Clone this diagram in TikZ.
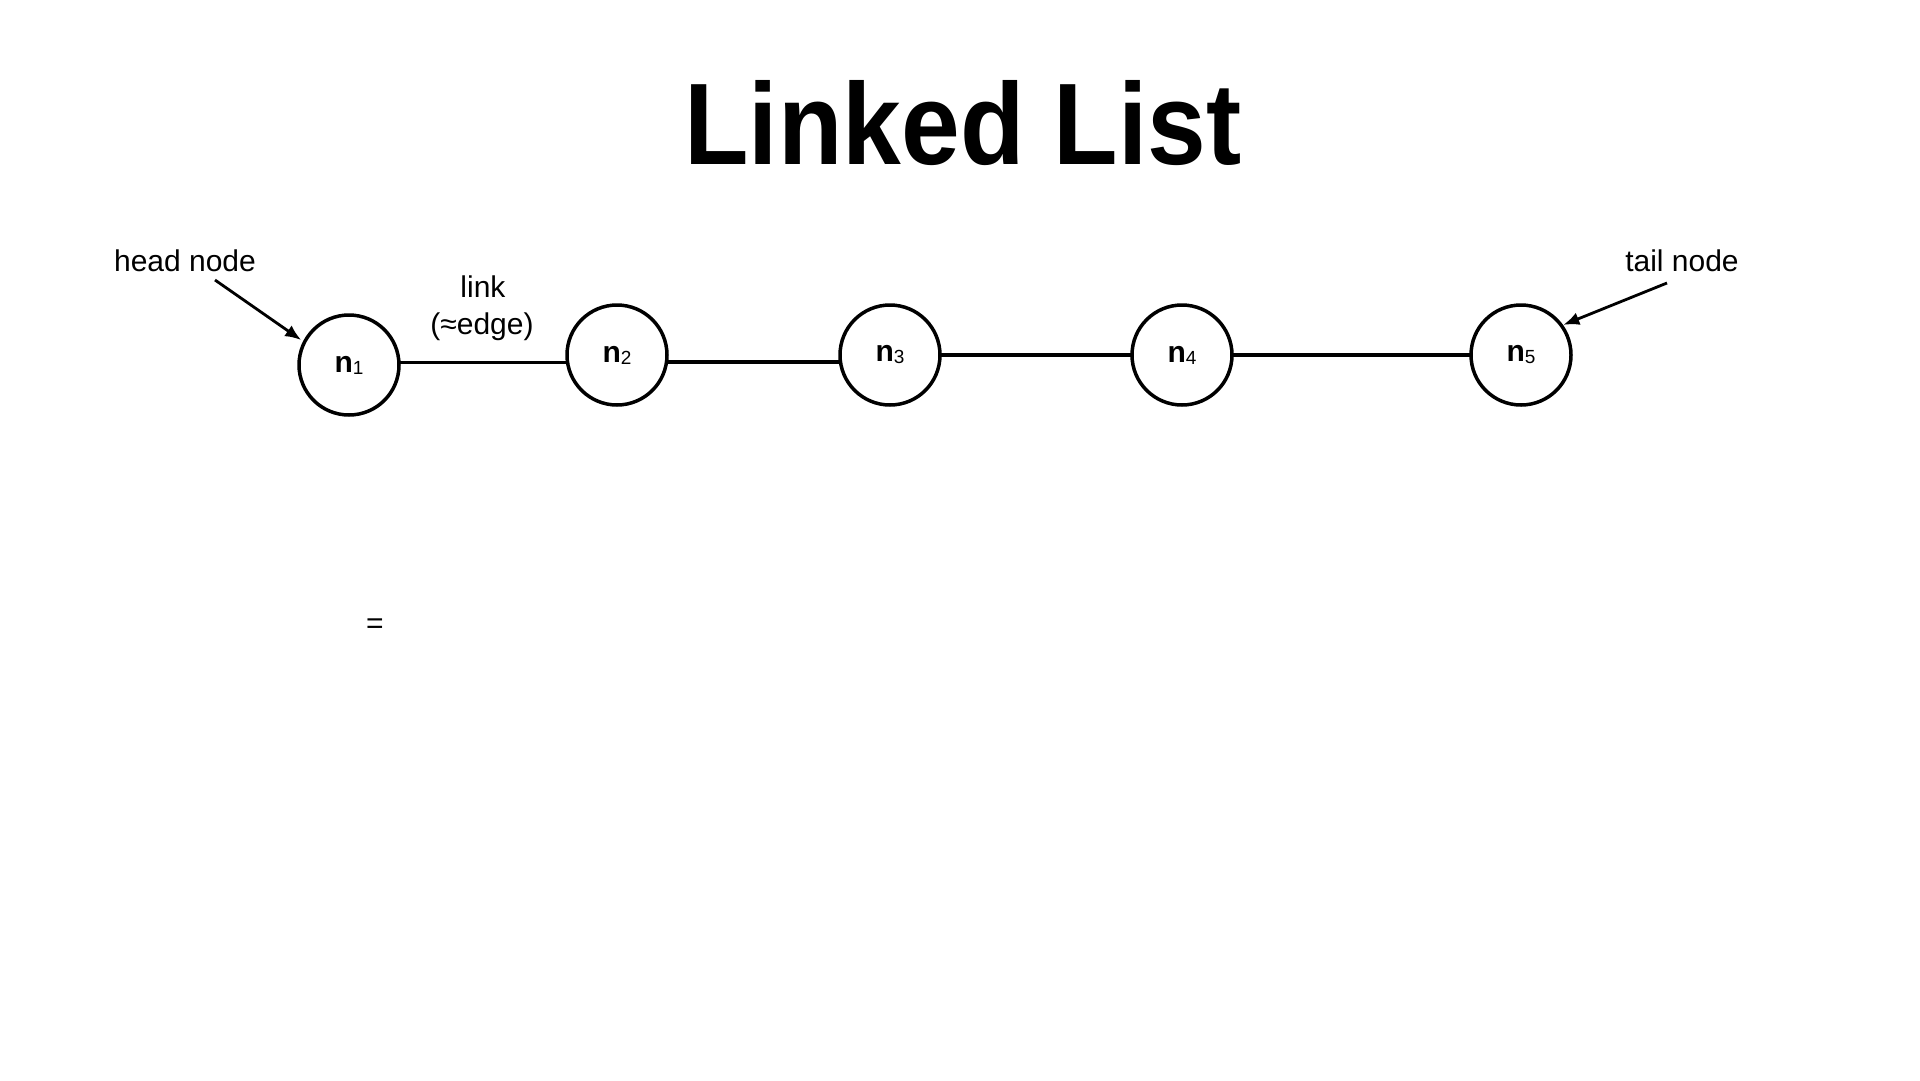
\documentclass[tikz,border=0pt]{standalone}
\usepackage{fontspec}
\setmainfont{Liberation Sans}
\usetikzlibrary{arrows.meta}
\newcommand{\nlab}[1]{\textbf{n}{\fontsize{19}{19}\selectfont\raisebox{-2pt}{#1}}}
\begin{document}
\begin{tikzpicture}[x=1pt,y=-1pt,
  listnode/.style={draw,circle,line width=3.5pt,minimum size=100pt,inner sep=0pt,outer sep=0pt,font=\fontsize{30}{32}\selectfont},
  link/.style={line width=3.5pt},
  ptr/.style={line width=2.8pt,-{Latex[length=16pt,width=13pt]}},
  lbl/.style={anchor=base,inner sep=0pt,font=\fontsize{30}{36}\selectfont}]
\useasboundingbox (0,0) rectangle (1920,1080);
\node[anchor=base,inner sep=0pt] (title) at (963,164) {\scalebox{0.91}[1]{\fontsize{116}{140}\selectfont\bfseries Linked List}};
\node[listnode] (n1) at (349,365) {\nlab{1}};
\node[listnode] (n2) at (617,355) {\nlab{2}};
\node[listnode] (n3) at (890,355) {\nlab{3}};
\node[listnode] (n4) at (1182,355) {\nlab{4}};
\node[listnode] (n5) at (1521,355) {\nlab{5}};
\draw[link] (n1.3) -- (n1.3 -| n2.west);
\draw[link] (n2.-8) -- (n3.-172);
\draw[link] (n3) -- (n4);
\draw[link] (n4) -- (n5);
\node[lbl] (headlbl) at (185,271) {head node};
\node[lbl] (taillbl) at (1682,271) {tail node};
\node[lbl] (linklbl) at (483,297) {link};
\node[lbl] (edgelbl) at (482,334) {(≈edge)};
\node[lbl] (eq) at (375,633) {=};
\coordinate (hs) at (215,280);
\coordinate (ts) at (1667,283);
\draw[ptr,shorten >=4pt] (hs) -- (n1.153);
\draw[ptr,shorten >=2pt] (ts) -- (n5.36);
\end{tikzpicture}
\end{document}
